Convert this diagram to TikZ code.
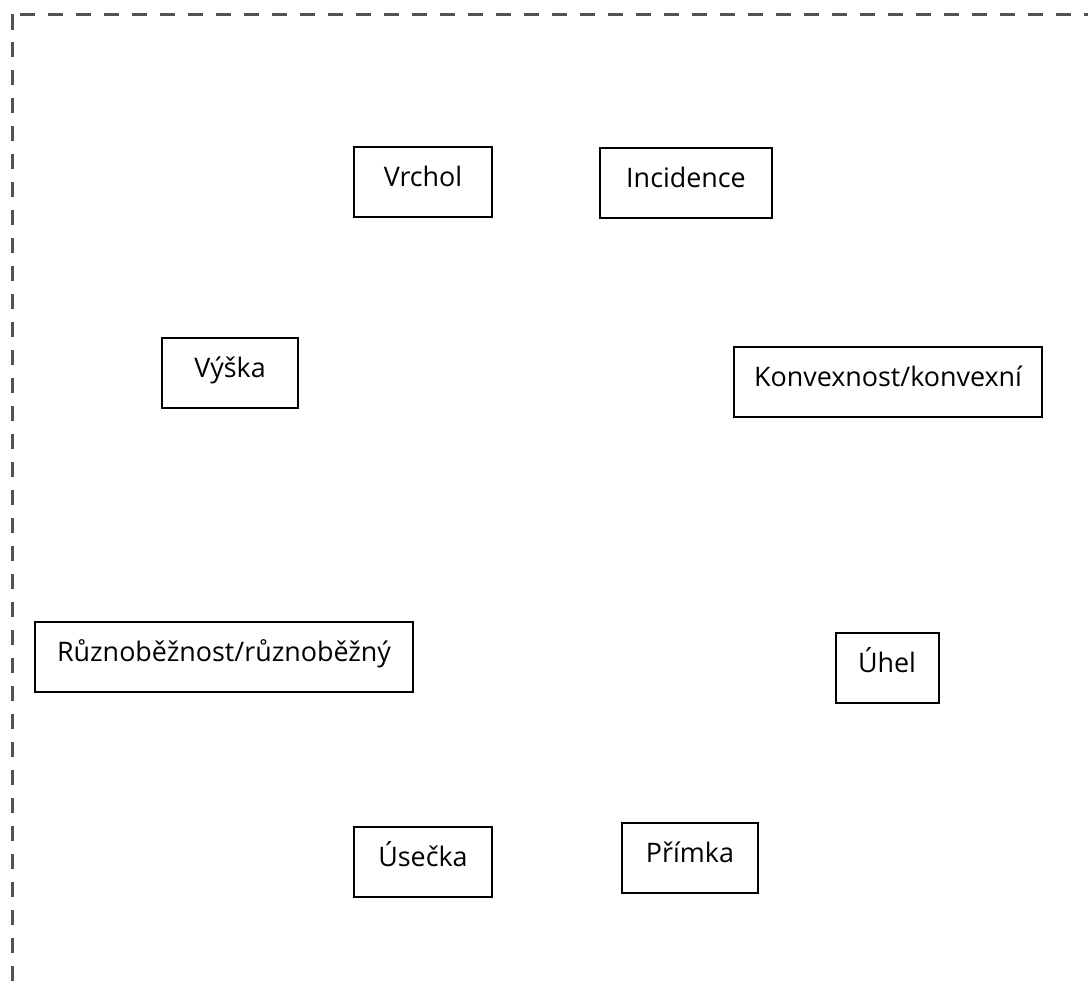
\documentclass[tikz,border=0pt]{standalone}
\usepackage{fontspec}
\setmainfont{Open Sans}

\begin{document}
\begin{tikzpicture}[x=0.02cm,y=-0.02cm,
  pojem/.style={draw,line width=0.04cm,rectangle,inner sep=0pt,
    text height=0.78cm,text depth=0.62cm,font=\fontsize{15.3}{18}\selectfont}]

% rozsah obrazku
\useasboundingbox[clip] (0,0) rectangle (1088,988);

% carkovany okraj
\draw[line width=0.065cm,color=black!68,dash pattern=on 0.31cm off 0.25cm] (12.3,14) -- (12.3,1000);
\draw[line width=0.065cm,color=black!68,dash pattern=on 0.31cm off 0.25cm] (20,14.5) -- (1100,14.5);

% pojmy
\node[pojem,minimum width=2.76cm] (vrchol) at (423,182) {Vrchol};
\node[pojem,minimum width=3.44cm] (incidence) at (686,183) {Incidence};
\node[pojem,minimum width=2.74cm] (vyska) at (230,373) {Výška};
\node[pojem,minimum width=6.18cm] (konvexnost) at (888,382) {Konvexnost/konvexní};
\node[pojem,minimum width=7.56cm] (ruznobeznost) at (224,657) {Různoběžnost/různoběžný};
\node[pojem,minimum width=2.06cm] (uhel) at (887,668) {Úhel};
\node[pojem,minimum width=2.76cm] (usecka) at (423,862) {Úsečka};
\node[pojem,minimum width=2.74cm] (primka) at (690,858) {Přímka};

\end{tikzpicture}
\end{document}
